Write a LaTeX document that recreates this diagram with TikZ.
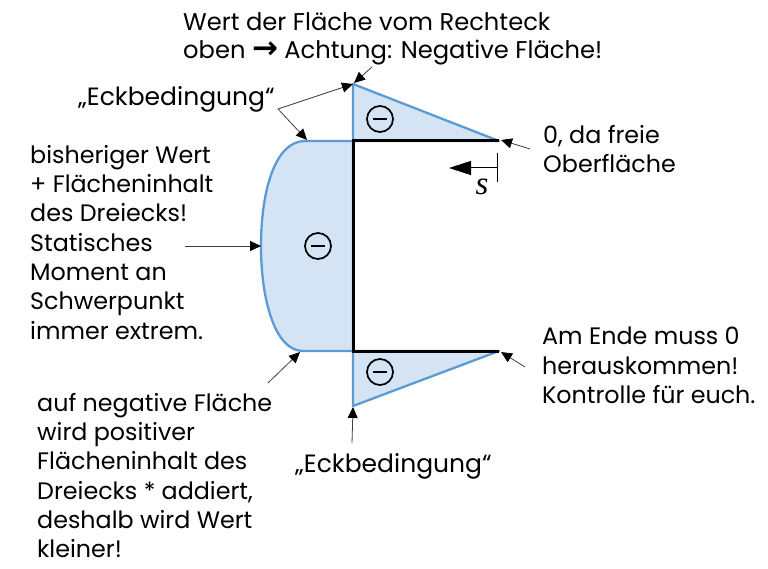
\documentclass[tikz,border=0pt]{standalone}
\usepackage{fontspec}
\setmainfont{Poppins}
\newfontfamily\symfont{DejaVu Sans}
\newfontfamily\sfont{Liberation Serif}
\usetikzlibrary{arrows.meta}
\definecolor{linieblau}{HTML}{5B9BD5}
\definecolor{flaeche}{HTML}{D5E4F4}
\definecolor{pfeil}{HTML}{404040}
\tikzset{
  x=1pt,y=-1pt,
  flaechenform/.style={fill=flaeche,draw=linieblau,line width=2.3pt,line join=round},
  profil/.style={draw=black,line width=3pt,line join=miter},
  txt/.style={inner sep=0pt,anchor=north west,align=left,text=black,font=\fontsize{23.8}{29.3}\selectfont},
  ecktxt/.style={txt,font=\fontsize{25}{29.3}\selectfont},
  hinweis/.style={draw=pfeil,line width=0.8pt,-{Triangle[length=11pt,width=10pt,fill=black,color=black]}},
  minus/.style={circle,draw=black,line width=1.7pt,minimum size=26pt,inner sep=0pt},
  minusstrich/.style={line width=1.7pt},
}
\begin{document}
\begin{tikzpicture}
\useasboundingbox (0,0) rectangle (768,569);
% key points
\coordinate (A) at (353,84);
\coordinate (B) at (353,141);
\coordinate (C) at (499,141);
\coordinate (D) at (353,351);
\coordinate (E) at (499,351);
\coordinate (F) at (353,406);
\coordinate (G) at (305,141);
\coordinate (H) at (303,351);
\coordinate (I) at (261,246);
% areas
\path[flaechenform] (A) -- (C) -- (B) -- cycle;
\path[flaechenform] (D) -- (E) -- (F) -- cycle;
\path[flaechenform] (B) -- (G) .. controls (275,141) and (261,191) .. (I) .. controls (261,300) and (275,351) .. (H) -- (D) -- cycle;
% profile
\draw[profil] (C) -- (B) -- (D) -- (E);
% minus signs
\node[minus] (m1) at (380,119) {};
\draw[minusstrich] (373,119) -- (387,119);
\node[minus] (m2) at (318,246) {};
\draw[minusstrich] (311,246) -- (325,246);
\node[minus] (m3) at (380,372) {};
\draw[minusstrich] (373,372) -- (387,372);
% texts
\node[txt,font=\fontsize{24.2}{28}\selectfont] (t1) at (183,12) {Wert der Fläche vom Rechteck\\oben {\symfont\bfseries\fontsize{31}{28}\selectfont→} Achtung: Negative Fläche!};
\node[ecktxt] (t2) at (78,86) {„Eckbedingung“};
\node[txt] (t3) at (30,145) {bisheriger Wert\\+ Flächeninhalt\\des Dreiecks!\\Statisches\\Moment an\\Schwerpunkt\\immer extrem.};
\node[txt] (t4) at (543,125) {0, da freie\\Oberfläche};
\node[txt] (t5) at (542,327) {Am Ende muss 0\\herauskommen!\\Kontrolle für euch.};
\node[ecktxt] (t6) at (295,453) {„Eckbedingung“};
\node[txt] (t7) at (37,393) {auf negative Fläche\\wird positiver\\Flächeninhalt des\\Dreiecks * addiert,\\deshalb wird Wert\\kleiner!};
% connector ends
\coordinate (a1) at (372,67);
\coordinate (a2) at (278,109);
\coordinate (a3) at (185,246);
\coordinate (a4) at (530,149);
\coordinate (a5) at (525,367);
\coordinate (a6) at (268,383);
\coordinate (a7) at (352,443);
\draw[hinweis] (a1) -- (354,83);
\draw[hinweis] (a2) -- (353,84);
\draw[hinweis] (a2) -- (307,140);
\draw[hinweis] (a3) -- (261,246);
\draw[hinweis] (a4) -- (501,140);
\draw[hinweis] (a5) -- (501,352);
\draw[hinweis] (a6) -- (300,352);
\draw[hinweis] (a7) -- (353,407);
% s axis
\coordinate (s0) at (497,168);
\coordinate (s1) at (449,168);
\draw[line width=1pt] (497,153) -- (497,182);
\draw[line width=1pt,-{Triangle[length=22pt,width=14pt,fill=black]}] (s0) -- (s1);
\node[inner sep=0pt,font=\sfont\itshape\fontsize{33}{33}\selectfont] (s) at (482,187) {s};
\end{tikzpicture}
\end{document}
